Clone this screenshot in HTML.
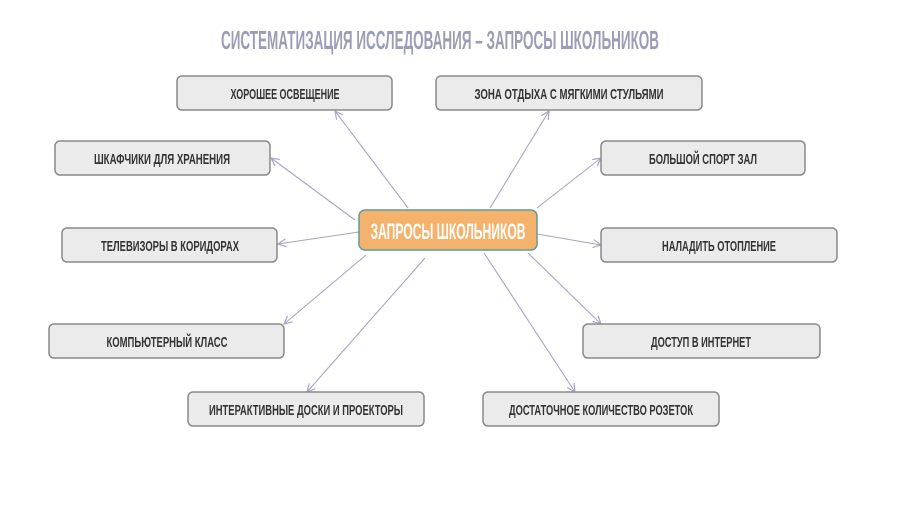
<!DOCTYPE html>
<html><head><meta charset="utf-8"><style>
html,body{margin:0;padding:0;background:#fff;}
svg{display:block;}
text{font-family:"Liberation Sans",sans-serif;font-weight:bold;}
</style></head><body>
<svg width="900" height="506" viewBox="0 0 900 506" xmlns="http://www.w3.org/2000/svg">
<defs>
<marker id="a" markerWidth="10" markerHeight="10" refX="9" refY="5" orient="auto" markerUnits="userSpaceOnUse">
<path d="M1,1 L9,5 L1,9" fill="none" stroke="#a6a6c4" stroke-width="1.2"/>
</marker>
</defs>
<text x="440" y="49" text-anchor="middle" font-size="26" fill="#9b9db6" textLength="438" lengthAdjust="spacingAndGlyphs">СИСТЕМАТИЗАЦИЯ ИССЛЕДОВАНИЯ – ЗАПРОСЫ ШКОЛЬНИКОВ</text>
<g stroke="#a6a6c4" stroke-width="1.1" fill="none" marker-end="url(#a)">
<line x1="408" y1="208" x2="335" y2="111"/>
<line x1="490" y1="208" x2="549" y2="111"/>
<line x1="355" y1="220" x2="271" y2="158"/>
<line x1="537" y1="208" x2="601" y2="158"/>
<line x1="359" y1="232" x2="278" y2="244"/>
<line x1="537" y1="234" x2="601" y2="245"/>
<line x1="366" y1="255" x2="284" y2="324"/>
<line x1="528" y1="253" x2="601" y2="324"/>
<line x1="425" y1="258" x2="307" y2="392"/>
<line x1="484" y1="253" x2="575" y2="392"/>
</g>
<g fill="#ebebeb" stroke="#8a8a8a" stroke-width="1.5">
<rect x="177" y="76" width="215" height="34" rx="5"/>
<rect x="436" y="76" width="266" height="34" rx="5"/>
<rect x="55" y="141" width="215" height="34" rx="5"/>
<rect x="601" y="141" width="204" height="34" rx="5"/>
<rect x="62" y="228" width="215" height="34" rx="5"/>
<rect x="601" y="228" width="236" height="34" rx="5"/>
<rect x="49" y="324" width="235" height="34" rx="5"/>
<rect x="583" y="324" width="237" height="34" rx="5"/>
<rect x="188" y="392" width="236" height="34" rx="5"/>
<rect x="483" y="392" width="236" height="34" rx="5"/>
</g>
<rect x="359" y="210" width="178" height="40" rx="6" fill="#f5b26c" stroke="#5f9c9c" stroke-width="1.5"/>
<text x="448" y="239" text-anchor="middle" font-size="22" fill="#fff" textLength="155" lengthAdjust="spacingAndGlyphs">ЗАПРОСЫ ШКОЛЬНИКОВ</text>
<g font-size="15" fill="#333" text-anchor="middle">
<text x="285" y="99" textLength="109" lengthAdjust="spacingAndGlyphs">ХОРОШЕЕ ОСВЕЩЕНИЕ</text>
<text x="569" y="99" textLength="189" lengthAdjust="spacingAndGlyphs">ЗОНА ОТДЫХА С МЯГКИМИ СТУЛЬЯМИ</text>
<text x="162" y="164" textLength="136" lengthAdjust="spacingAndGlyphs">ШКАФЧИКИ ДЛЯ ХРАНЕНИЯ</text>
<text x="703" y="164" textLength="108" lengthAdjust="spacingAndGlyphs">БОЛЬШОЙ СПОРТ ЗАЛ</text>
<text x="170" y="251" textLength="138" lengthAdjust="spacingAndGlyphs">ТЕЛЕВИЗОРЫ В КОРИДОРАХ</text>
<text x="719" y="251" textLength="114" lengthAdjust="spacingAndGlyphs">НАЛАДИТЬ ОТОПЛЕНИЕ</text>
<text x="167" y="347" textLength="121" lengthAdjust="spacingAndGlyphs">КОМПЬЮТЕРНЫЙ КЛАСС</text>
<text x="701" y="347" textLength="100" lengthAdjust="spacingAndGlyphs">ДОСТУП В ИНТЕРНЕТ</text>
<text x="306" y="415" textLength="194" lengthAdjust="spacingAndGlyphs">ИНТЕРАКТИВНЫЕ ДОСКИ И ПРОЕКТОРЫ</text>
<text x="601" y="415" textLength="184" lengthAdjust="spacingAndGlyphs">ДОСТАТОЧНОЕ КОЛИЧЕСТВО РОЗЕТОК</text>
</g>
</svg>
</body></html>
